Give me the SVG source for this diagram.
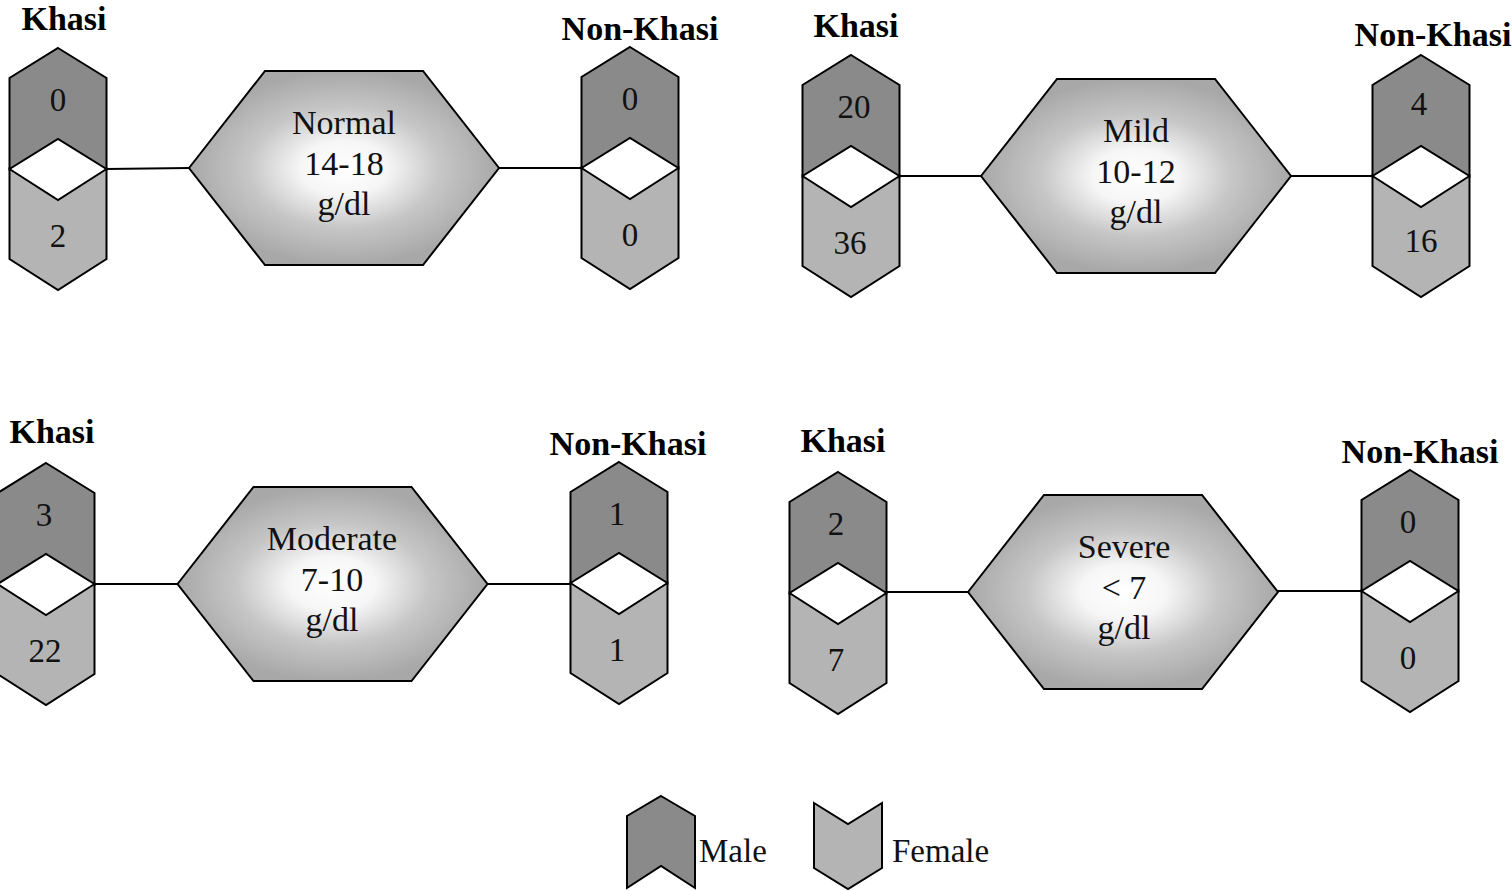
<svg xmlns="http://www.w3.org/2000/svg" xmlns:xlink="http://www.w3.org/1999/xlink" width="1512" height="891" viewBox="0 0 1512 891">
  <defs>
    <radialGradient id="hexFill" cx="0.5" cy="0.5" r="0.5">
      <stop offset="0" stop-color="#ffffff"/>
      <stop offset="0.28" stop-color="#f6f6f6"/>
      <stop offset="0.62" stop-color="#c6c6c6"/>
      <stop offset="1" stop-color="#a8a8a8"/>
    </radialGradient>
    <!-- chevron shapes, apex at origin -->
    <path id="maleShape" d="M0,0 L48.5,30 L48.5,121 L0,91 L-48.5,121 L-48.5,30 Z"/>
    <path id="femaleShape" d="M-48.5,121 L0,152 L48.5,121 L48.5,211 L0,242 L-48.5,211 Z"/>
    <!-- hexagon, centred on origin -->
    <path id="hexShape" d="M-155,0 L-79,-97 L79,-97 L155,0 L79,97 L-79,97 Z"/>
  </defs>
  <style>
    .male { fill: #8a8a8a; stroke: #000; stroke-width: 2; stroke-linejoin: miter; }
    .female { fill: #b4b4b4; stroke: #000; stroke-width: 2; stroke-linejoin: miter; }
    .hex { fill: url(#hexFill); stroke: #000; stroke-width: 2; }
    .conn { stroke: #000; stroke-width: 2; fill: none; }
    .num { font-family: "Liberation Serif", "Times New Roman", serif; font-size: 33px; fill: #111; text-anchor: middle; }
    .hext { font-family: "Liberation Serif", "Times New Roman", serif; font-size: 34px; fill: #111; text-anchor: middle; }
    .grp { font-family: "Liberation Serif", "Times New Roman", serif; font-size: 34px; font-weight: bold; fill: #000; text-anchor: middle; }
    .leg { font-family: "Liberation Serif", "Times New Roman", serif; font-size: 33px; fill: #111; }
  </style>

  <rect width="1512" height="891" fill="#ffffff"/>

  <!-- connectors -->
  <g id="connectors">
    <line class="conn" x1="106.5" y1="169" x2="189" y2="168"/>
    <line class="conn" x1="499" y1="168" x2="581.5" y2="168"/>
    <line class="conn" x1="899.5" y1="176" x2="981" y2="176"/>
    <line class="conn" x1="1291" y1="176" x2="1372.5" y2="176"/>
    <line class="conn" x1="94.5" y1="584" x2="177.5" y2="584"/>
    <line class="conn" x1="487.5" y1="584" x2="570.5" y2="584"/>
    <line class="conn" x1="886.5" y1="592" x2="968" y2="592"/>
    <line class="conn" x1="1278" y1="591" x2="1361.5" y2="591"/>
  </g>

  <!-- Normal -->
  <g id="normal-khasi">
    <text class="grp" x="64" y="30">Khasi</text>
    <use href="#maleShape" class="male" transform="translate(58,48)"/>
    <use href="#femaleShape" class="female" transform="translate(58,48)"/>
    <text class="num" x="58" y="111">0</text>
    <text class="num" x="58" y="247">2</text>
  </g>
  <g id="normal-level">
    <use href="#hexShape" class="hex" transform="translate(344,168)"/>
    <text class="hext" x="344" y="134">Normal</text>
    <text class="hext" x="344" y="175">14-18</text>
    <text class="hext" x="344" y="215">g/dl</text>
  </g>
  <g id="normal-nonkhasi">
    <text class="grp" x="640" y="40">Non-Khasi</text>
    <use href="#maleShape" class="male" transform="translate(630,47)"/>
    <use href="#femaleShape" class="female" transform="translate(630,47)"/>
    <text class="num" x="630" y="110">0</text>
    <text class="num" x="630" y="246">0</text>
  </g>

  <!-- Mild -->
  <g id="mild-khasi">
    <text class="grp" x="856" y="37">Khasi</text>
    <use href="#maleShape" class="male" transform="translate(851,55)"/>
    <use href="#femaleShape" class="female" transform="translate(851,55)"/>
    <text class="num" x="854" y="118">20</text>
    <text class="num" x="850" y="254">36</text>
  </g>
  <g id="mild-level">
    <use href="#hexShape" class="hex" transform="translate(1136,176)"/>
    <text class="hext" x="1136" y="142">Mild</text>
    <text class="hext" x="1136" y="183">10-12</text>
    <text class="hext" x="1136" y="223">g/dl</text>
  </g>
  <g id="mild-nonkhasi">
    <text class="grp" x="1433" y="46">Non-Khasi</text>
    <use href="#maleShape" class="male" transform="translate(1421,55)"/>
    <use href="#femaleShape" class="female" transform="translate(1421,55)"/>
    <text class="num" x="1419" y="115">4</text>
    <text class="num" x="1421" y="252">16</text>
  </g>

  <!-- Moderate -->
  <g id="moderate-khasi">
    <text class="grp" x="52" y="443">Khasi</text>
    <use href="#maleShape" class="male" transform="translate(46,463)"/>
    <use href="#femaleShape" class="female" transform="translate(46,463)"/>
    <text class="num" x="44" y="526">3</text>
    <text class="num" x="45" y="662">22</text>
  </g>
  <g id="moderate-level">
    <use href="#hexShape" class="hex" transform="translate(332.5,584)"/>
    <text class="hext" x="332" y="550">Moderate</text>
    <text class="hext" x="332" y="591">7-10</text>
    <text class="hext" x="332" y="631">g/dl</text>
  </g>
  <g id="moderate-nonkhasi">
    <text class="grp" x="628" y="455">Non-Khasi</text>
    <use href="#maleShape" class="male" transform="translate(619,462)"/>
    <use href="#femaleShape" class="female" transform="translate(619,462)"/>
    <text class="num" x="617" y="525">1</text>
    <text class="num" x="617" y="661">1</text>
  </g>

  <!-- Severe -->
  <g id="severe-khasi">
    <text class="grp" x="843" y="452">Khasi</text>
    <use href="#maleShape" class="male" transform="translate(838,472)"/>
    <use href="#femaleShape" class="female" transform="translate(838,472)"/>
    <text class="num" x="836" y="535">2</text>
    <text class="num" x="836" y="671">7</text>
  </g>
  <g id="severe-level">
    <use href="#hexShape" class="hex" transform="translate(1123,592)"/>
    <text class="hext" x="1124" y="558">Severe</text>
    <text class="hext" x="1124" y="599">&lt; 7</text>
    <text class="hext" x="1124" y="639">g/dl</text>
  </g>
  <g id="severe-nonkhasi">
    <text class="grp" x="1420" y="463">Non-Khasi</text>
    <use href="#maleShape" class="male" transform="translate(1410,470)"/>
    <use href="#femaleShape" class="female" transform="translate(1410,470)"/>
    <text class="num" x="1408" y="533">0</text>
    <text class="num" x="1408" y="669">0</text>
  </g>

  <!-- legend -->
  <g id="legend-male">
    <path class="male" d="M661,796 L695,816 L695,888 L661,866 L627,888 L627,816 Z"/>
    <text class="leg" x="699" y="862">Male</text>
  </g>
  <g id="legend-female">
    <path class="female" d="M814,803 L848,824 L882,803 L882,868 L848,889 L814,868 Z"/>
    <text class="leg" x="892" y="862">Female</text>
  </g>
</svg>
